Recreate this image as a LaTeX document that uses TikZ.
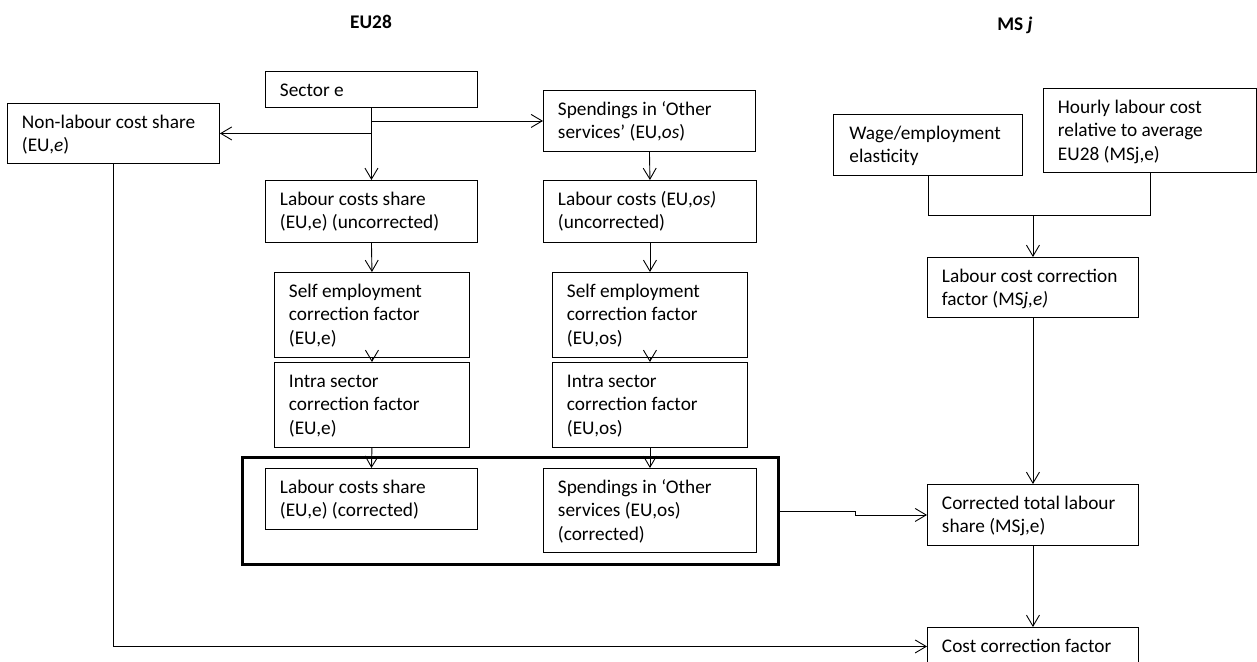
\documentclass[tikz,border=0pt]{standalone}
\usepackage{fontspec}
\setmainfont{Carlito}
\usetikzlibrary{arrows.meta}
\newcommand{\bt}[3]{\parbox[c][#2pt][t]{#1pt}{\raggedright\leftskip=14.5pt\rule{0pt}{25pt}#3}}
\begin{document}
\begin{tikzpicture}[x=1pt,y=-1pt,
  every node/.style={font=\fontsize{19.3}{23.5}\selectfont},
  box/.style={draw, line width=0.9pt, inner sep=0pt, anchor=north west},
  ttl/.style={font=\fontsize{19.3}{23.5}\selectfont\bfseries},
  ln/.style={line width=0.9pt},
  arr/.style={line width=0.9pt, -{Straight Barb[length=11pt,width=13pt,line width=0.9pt]}}]
\useasboundingbox (0,0) rectangle (1257,661);
\clip (0,0) rectangle (1257,661);
\fill[white] (0,0) rectangle (1257,661);

\node[ttl] (eu) at (371,22) {EU28};
\node[ttl] (ms) at (1015,25) {MS \textit{j}};

\node[box] (nl) at (7,103) {\bt{212}{60}{Non-labour cost share\\(EU,\textit{e})}};
\node[box] (se) at (265,71) {\bt{212}{36}{Sector e}};
\node[box] (sp) at (543,90) {\bt{212}{61}{Spendings in ‘Other\\services’ (EU,\textit{os})}};
\node[box] (lcs) at (265,180) {\bt{212}{62}{Labour costs share\\(EU,e) (uncorrected)}};
\node[box] (lco) at (543,180) {\bt{213}{62}{Labour costs (EU,\textit{os)}\\(uncorrected)}};
\node[box] (s1) at (274,272) {\bt{195}{85}{Self employment\\correction factor\\(EU,e)}};
\node[box] (s2) at (552,272) {\bt{195}{85}{Self employment\\correction factor\\(EU,os)}};
\node[box] (i1) at (274,362) {\bt{195}{85}{Intra sector\\correction factor\\(EU,e)}};
\node[box] (i2) at (552,362) {\bt{195}{85}{Intra sector\\correction factor\\(EU,os)}};
\node[box, line width=3.2pt, minimum width=536pt, minimum height=107pt] (frame) at (241,456) {};
\node[box] (c1) at (265,468) {\bt{212}{61}{Labour costs share\\(EU,e) (corrected)}};
\node[box] (c2) at (543,468) {\bt{213}{84}{Spendings in ‘Other\\services (EU,os)\\(corrected)}};

\node[box] (wage) at (833,114) {\bt{189}{61}{\hspace*{1.5pt}Wage/employment\\\hspace*{1.5pt}elasticity}};
\node[box] (hr) at (1043,88) {\bt{213}{84}{Hourly labour cost\\relative to average\\EU28 (MSj,e)}};
\node[box] (lccf) at (927,257) {\bt{211}{60}{Labour cost correction\\factor (MS\textit{j,e)}}};
\node[box] (ctls) at (927,484) {\bt{211}{61}{Corrected total labour\\share (MSj,e)}};
\node[box] (ccf) at (927,627) {\bt{211}{38}{\rule{0pt}{-1pt}Cost correction factor}};

\coordinate (jm) at (lccf.north |- 0,215);
\draw[arr] (se.south) -- (lcs.north);
\draw[arr] (se.south |- sp.west) -- (sp.west);
\draw[arr] (se.south |- nl.east) -- (nl.east);
\draw[arr] (sp.south) -- (lco.north);
\draw[arr] (lcs.south) -- (s1.north);
\draw[arr] (lco.south) -- (s2.north);
\draw[arr] (s1.south) -- (i1.north);
\draw[arr] (s2.south) -- (i2.north);
\draw[arr] (i1.south) -- (c1.north);
\draw[arr] (i2.south) -- (c2.north);
\draw[ln] (wage.south) |- (jm);
\draw[ln] (hr.south) |- (jm);
\draw[arr] (jm) -- (lccf.north);
\draw[arr] (lccf.south) -- (ctls.north);
\draw[arr] (ctls.south) -- (ccf.north);
\draw[arr] (frame.east) -- ++(75,0) |- (ctls.west);
\draw[arr] (nl.south) |- (ccf.west);
\end{tikzpicture}
\end{document}
